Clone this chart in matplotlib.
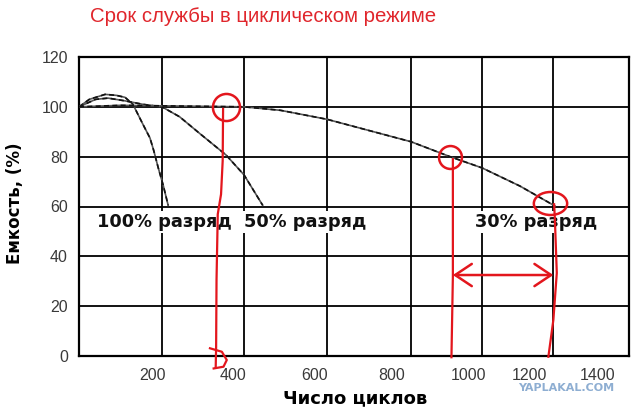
import numpy as np
import matplotlib
matplotlib.use('Agg')
import matplotlib.pyplot as plt
from matplotlib.path import Path
from matplotlib.transforms import Affine2D

plt.rcParams['font.family'] = ['Liberation Sans', 'DejaVu Sans']

# Кривые емкости (число циклов, емкость %)
cycles_100 = [0, 25, 63, 90, 111, 130, 142, 154, 171, 180, 191, 203, 215]
cap_100 = [100, 103, 105, 104.6, 103.8, 101, 97, 93, 87.5, 82.5, 75.5, 68.5, 60.5]

cycles_50 = [0, 40, 70, 111, 154, 200, 243, 292, 356, 400, 445]
cap_50 = [100, 103, 103.5, 102.4, 101, 100, 96, 89.3, 80.7, 72.7, 60.5]

cycles_30 = [0, 100, 200, 300, 400, 488, 600, 700, 800, 910, 1000, 1107, 1205]
cap_30 = [100, 100.6, 100.4, 100.2, 100, 98.6, 95, 90.5, 86, 80, 75.5, 68.2, 60.2]

curve_labels = ['100% разряд', '50% разряд', '30% разряд']
label_x = [43, 400, 980]
label_y = 53.8

# Красные пометки от руки
circle_x = [356, 911]
circle_y = [100, 79.7]
oval_x, oval_y = 1192, 61.6

mark1_x = [349, 348, 344, 336, 333, 332, 331]
mark1_y = [99.2, 78.3, 64.9, 56.9, 30.6, 3.6, -4.5]
mark_d_x = [317, 346, 358, 350, 326]
mark_d_y = [3.1, 1.7, -1.6, -4.3, -5.0]
mark2_x = [918, 918, 914]
mark2_y = [79, 32, -0.5]
mark3_x = [1203, 1205, 1210, 1201, 1187]
mark3_y = [60.9, 54.8, 33.3, 14.5, -0.3]
arrow_from, arrow_to, arrow_y = 918, 1201, 32.5

# Сетка оси X (в исходной картинке она неравномерная)
grid_cycles = [0, 200, 400, 600, 800, 1000, 1200, 1400]
grid_frac = [0, 0.1509, 0.3, 0.4509, 0.6036, 0.7327, 0.8618, 1.0]
xtick_labels = ['200', '400', '600', '800', '1000', '1200', '1400']
xtick_pos = [178, 373, 571, 755, 961, 1135, 1316]
yticks = [0, 20, 40, 60, 80, 100, 120]

xp = np.array([-1400] + grid_cycles + [2800], dtype=float)
fp = np.array([-1.0] + grid_frac + [2.0])


def fwd(x):
    return np.interp(x, xp, fp)


def inv(f):
    return np.interp(f, fp, xp)


red = '#e3161d'

fig = plt.figure(figsize=(6.4, 4.12), dpi=100)
ax = fig.add_axes([79 / 640, 1 - 356 / 412, 550 / 640, 299 / 412])
ax.set_xscale('function', functions=(fwd, inv))
ax.set_xlim(0, 1400)
ax.set_ylim(0, 120)

ax.set_xticks(grid_cycles)
ax.set_xticks(xtick_pos, labels=xtick_labels, minor=True)
ax.set_yticks(yticks)
ax.tick_params(axis='x', which='major', labelbottom=False)
ax.tick_params(which='both', length=0, labelsize=11.5, labelcolor='#3a3a3a')
ax.tick_params(axis='x', which='minor', pad=9)
ax.tick_params(axis='y', pad=8)
ax.grid(True, which='major', color='black', lw=1.3)
ax.set_axisbelow(True)
for s in ax.spines.values():
    s.set_linewidth(1.6)

# кривые: сплошная серая + штриховая поверх
for cx, cy in [(cycles_100, cap_100), (cycles_50, cap_50), (cycles_30, cap_30)]:
    ax.plot(cx, cy, color='#555555', lw=1.2, zorder=3)
    ax.plot(cx, cy, color='#111111', lw=1.2, dashes=(3, 2), zorder=3)

for t, lx in zip(curve_labels, label_x):
    ax.text(lx, label_y, t, ha='left', va='center', fontsize=12.8,
            fontweight='bold', family='DejaVu Sans', color='#111111', zorder=4,
            bbox=dict(facecolor='white', edgecolor='none', pad=1.5))

# красные пометки
ax.plot(circle_x[:1], circle_y[:1], 'o', mfc='none', mec=red, ms=19.5, mew=1.8,
        zorder=6, clip_on=False)
ax.plot(circle_x[1:], circle_y[1:], 'o', mfc='none', mec=red, ms=16.5, mew=1.8,
        zorder=6, clip_on=False)
oval = Path.unit_circle().transformed(Affine2D().scale(1.45, 1.0))
ax.plot([oval_x], [oval_y], marker=oval, mfc='none', mec=red, ms=24, mew=1.8,
        zorder=6, clip_on=False)
for mx, my in [(mark1_x, mark1_y), (mark_d_x, mark_d_y), (mark2_x, mark2_y), (mark3_x, mark3_y)]:
    ax.plot(mx, my, color=red, lw=1.6, zorder=6, clip_on=False)
ax.annotate('', xy=(arrow_to, arrow_y), xytext=(arrow_from, arrow_y),
            arrowprops=dict(arrowstyle='<->,head_length=0.6,head_width=0.4',
                            color=red, lw=1.8, mutation_scale=20,
                            shrinkA=0, shrinkB=0), zorder=6)

fig.text(263 / 640, 1 - 17 / 412, 'Срок службы в циклическом режиме', ha='center',
         va='center', fontsize=14.7, color='#e0262c')
fig.text(15 / 640, 1 - 203 / 412, 'Емкость, (%)', rotation=90, ha='center',
         va='center', fontsize=12, fontweight='bold', family='DejaVu Sans')
fig.text(355 / 640, 1 - 398 / 412, 'Число циклов', ha='center', va='center',
         fontsize=13, fontweight='bold', family='DejaVu Sans')
fig.text(566 / 640, 1 - 388 / 412, 'YAPLAKAL.COM', ha='center', va='center',
         fontsize=8, fontweight='bold', family='DejaVu Sans', color='#8eaed2')

fig.savefig('out.png', dpi=100)
